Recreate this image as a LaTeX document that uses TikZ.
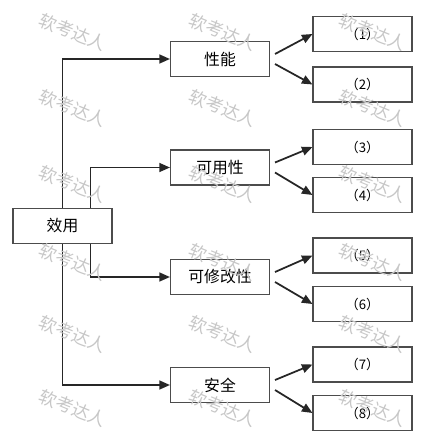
\documentclass[tikz,border=0pt]{standalone}
\usepackage{fontspec}
\setmainfont{Noto Sans CJK SC}
\usetikzlibrary{arrows.meta,calc}

\begin{document}
\begin{tikzpicture}[x=0.02cm,y=-0.02cm,>={Triangle[length=6pt,width=5pt]},
  box/.style={draw=black!70,line width=0.6pt,minimum width=1.98cm,minimum height=0.7cm,inner sep=0pt,font=\fontsize{9}{11}\selectfont},
  leaf/.style={box,font=\fontsize{7.5}{9}\selectfont},
  link/.style={->,line width=1pt,black!85},
  stamp/.style={text=black!22,rotate=-22,font=\fontsize{10}{12}\selectfont}]
  \useasboundingbox (0,0) rectangle (436,436);
  \node[box] (xy) at (62.5,226) {效用};
  % second level with its two leaves
  \foreach \name/\txt/\y/\a/\ya/\b/\yb in {perf/性能/59/1/34/2/84.5,avail/可用性/167.5/3/147/4/195,modi/可修改性/277/5/255.5/6/304,safe/安全/385/7/364.5/8/413}{
    \node[box] (\name) at (220,\y) {\txt};
    \node[leaf] (leaf\a) at (362.5,\ya) {（\a）};
    \node[leaf] (leaf\b) at (362.5,\yb) {（\b）};
    \draw[link] ($(\name.east)+(5,-5)$) -- (leaf\a.west);
    \draw[link] ($(\name.east)+(5,5)$) -- (leaf\b.west);
  }
  \draw[link] (xy.north) |- (perf.west);
  \draw[link] ($(xy.north)+(28,0)$) |- (avail.west);
  \draw[link] ($(xy.south)+(28,0)$) |- (modi.west);
  \draw[link] (xy.south) |- (safe.west);
  % watermark
  \foreach \wx in {73,223,373}{\foreach \wy in {32,108,184,262,334,408}{
    \node[stamp] (wm-\wx-\wy) at (\wx,\wy) {软考达人};}}
\end{tikzpicture}
\end{document}
